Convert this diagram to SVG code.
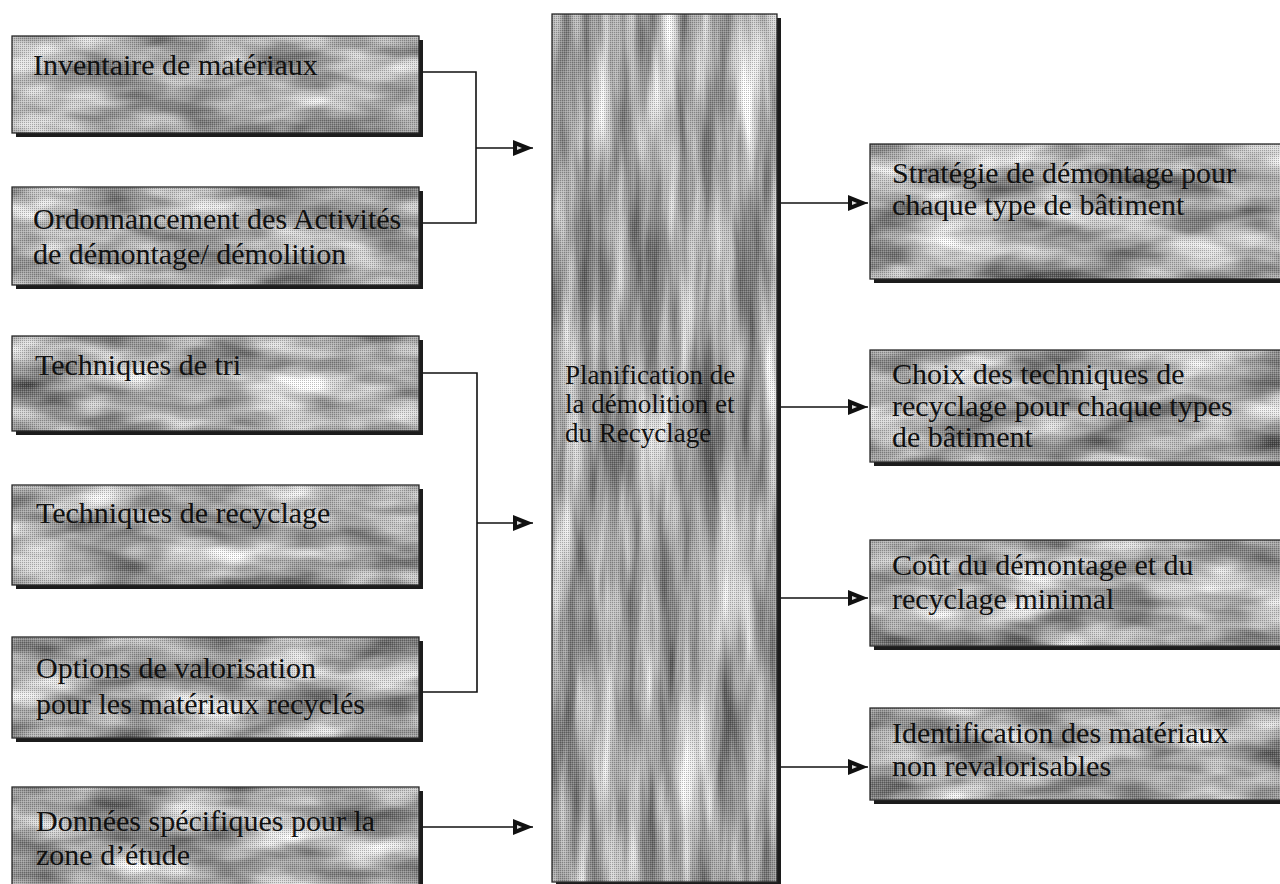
<svg xmlns="http://www.w3.org/2000/svg" width="1280" height="884" viewBox="0 0 1280 884">
<style>
.bg{fill:#ffffff}
.shadow{fill:#1c1c1c}
.ht{fill:url(#ht)}
.border{fill:none;stroke:#2a2a2a;stroke-width:1.3}
.lbl{font-family:"Liberation Serif","Times New Roman",serif;font-size:30px;fill:#111}
.clbl{font-family:"Liberation Serif","Times New Roman",serif;font-size:27px;fill:#111}
.conn{fill:none;stroke:#111;stroke-width:1.6}
</style>
<defs>
<pattern id="ht" width="2" height="2" patternUnits="userSpaceOnUse">
<rect x="0" y="0" width="1" height="1" fill="#000" fill-opacity="0.25"/>
<rect x="1" y="1" width="1" height="1" fill="#fff" fill-opacity="0.2"/>
</pattern>
<filter id="mottleH" x="0" y="0" width="1" height="1" color-interpolation-filters="sRGB">
<feTurbulence type="fractalNoise" baseFrequency="0.012 0.035" numOctaves="3" seed="7" result="t"/>
<feColorMatrix in="t" type="matrix" values="0.95 0 0 0 0.2  0.95 0 0 0 0.2  0.95 0 0 0 0.2  0 0 0 0 1" result="g"/>
<feComposite in="g" in2="SourceGraphic" operator="in"/>
</filter>
<filter id="mottleV" x="0" y="0" width="1" height="1" color-interpolation-filters="sRGB">
<feTurbulence type="fractalNoise" baseFrequency="0.05 0.006" numOctaves="3" seed="11" result="t"/>
<feColorMatrix in="t" type="matrix" values="1.0 0 0 0 0.16  1.0 0 0 0 0.16  1.0 0 0 0 0.16  0 0 0 0 1" result="g"/>
<feComposite in="g" in2="SourceGraphic" operator="in"/>
</filter>
<marker id="arr" markerUnits="userSpaceOnUse" markerWidth="22" markerHeight="16" refX="20" refY="8" orient="auto">
<path d="M0,0 L20,8 L0,16 z" fill="#111"/>
<path d="M4,6 L9,8 L4,10 z" fill="#ddd"/>
</marker>
</defs>
<rect class="bg" x="0" y="0" width="1280" height="884"/>

<g id="n-inventaire">
<rect class="shadow" x="16" y="40" width="407" height="97"/>
<rect x="12" y="36" width="407" height="97" fill="#aaa" filter="url(#mottleH)"/>
<rect class="ht" x="12" y="36" width="407" height="97"/>
<rect class="border" x="12" y="36" width="407" height="97"/>
<text class="lbl" x="33" y="75">Inventaire de matériaux</text>
</g>

<g id="n-ordonnancement">
<rect class="shadow" x="16" y="191" width="407" height="98"/>
<rect x="12" y="187" width="407" height="98" fill="#aaa" filter="url(#mottleH)"/>
<rect class="ht" x="12" y="187" width="407" height="98"/>
<rect class="border" x="12" y="187" width="407" height="98"/>
<text class="lbl" x="33" y="229">Ordonnancement des Activités</text>
<text class="lbl" x="33" y="264">de démontage/ démolition</text>
</g>

<g id="n-tri">
<rect class="shadow" x="16" y="340" width="407" height="95"/>
<rect x="12" y="336" width="407" height="95" fill="#aaa" filter="url(#mottleH)"/>
<rect class="ht" x="12" y="336" width="407" height="95"/>
<rect class="border" x="12" y="336" width="407" height="95"/>
<text class="lbl" x="35" y="375">Techniques de tri</text>
</g>

<g id="n-recyclage">
<rect class="shadow" x="16" y="489" width="407" height="100"/>
<rect x="12" y="485" width="407" height="100" fill="#aaa" filter="url(#mottleH)"/>
<rect class="ht" x="12" y="485" width="407" height="100"/>
<rect class="border" x="12" y="485" width="407" height="100"/>
<text class="lbl" x="36" y="523">Techniques de recyclage</text>
</g>

<g id="n-options">
<rect class="shadow" x="16" y="641" width="407" height="101"/>
<rect x="12" y="637" width="407" height="101" fill="#aaa" filter="url(#mottleH)"/>
<rect class="ht" x="12" y="637" width="407" height="101"/>
<rect class="border" x="12" y="637" width="407" height="101"/>
<text class="lbl" x="36" y="678">Options de valorisation</text>
<text class="lbl" x="36" y="714">pour les matériaux recyclés</text>
</g>

<g id="n-donnees">
<rect class="shadow" x="16" y="791" width="407" height="110"/>
<rect x="12" y="787" width="407" height="110" fill="#aaa" filter="url(#mottleH)"/>
<rect class="ht" x="12" y="787" width="407" height="110"/>
<rect class="border" x="12" y="787" width="407" height="110"/>
<text class="lbl" x="36" y="831">Données spécifiques pour la</text>
<text class="lbl" x="36" y="865">zone d’étude</text>
</g>

<g id="n-planification">
<rect class="shadow" x="556" y="18" width="225" height="868"/>
<rect x="552" y="14" width="225" height="868" fill="#aaa" filter="url(#mottleV)"/>
<rect class="ht" x="552" y="14" width="225" height="868"/>
<rect class="border" x="552" y="14" width="225" height="868"/>
<text class="clbl" x="565" y="384">Planification de</text>
<text class="clbl" x="565" y="413">la démolition et</text>
<text class="clbl" x="565" y="442">du Recyclage</text>
</g>

<g id="n-strategie">
<rect class="shadow" x="874" y="148" width="420" height="135"/>
<rect x="870" y="144" width="420" height="135" fill="#aaa" filter="url(#mottleH)"/>
<rect class="ht" x="870" y="144" width="420" height="135"/>
<rect class="border" x="870" y="144" width="420" height="135"/>
<text class="lbl" x="892" y="183">Stratégie de démontage pour</text>
<text class="lbl" x="892" y="215">chaque type de bâtiment</text>
</g>

<g id="n-choix">
<rect class="shadow" x="874" y="354" width="420" height="112"/>
<rect x="870" y="350" width="420" height="112" fill="#aaa" filter="url(#mottleH)"/>
<rect class="ht" x="870" y="350" width="420" height="112"/>
<rect class="border" x="870" y="350" width="420" height="112"/>
<text class="lbl" x="892" y="384">Choix des techniques de</text>
<text class="lbl" x="892" y="416">recyclage pour chaque types</text>
<text class="lbl" x="892" y="447">de bâtiment</text>
</g>

<g id="n-cout">
<rect class="shadow" x="874" y="544" width="420" height="106"/>
<rect x="870" y="540" width="420" height="106" fill="#aaa" filter="url(#mottleH)"/>
<rect class="ht" x="870" y="540" width="420" height="106"/>
<rect class="border" x="870" y="540" width="420" height="106"/>
<text class="lbl" x="892" y="575">Coût du démontage et du</text>
<text class="lbl" x="892" y="609">recyclage minimal</text>
</g>

<g id="n-identification">
<rect class="shadow" x="874" y="712" width="420" height="92"/>
<rect x="870" y="708" width="420" height="92" fill="#aaa" filter="url(#mottleH)"/>
<rect class="ht" x="870" y="708" width="420" height="92"/>
<rect class="border" x="870" y="708" width="420" height="92"/>
<text class="lbl" x="892" y="743">Identification des matériaux</text>
<text class="lbl" x="892" y="776">non revalorisables</text>
</g>

<g id="connectors">
<path class="conn" d="M423,72 H476 V223 H423"/>
<path class="conn" d="M476,148 H533" marker-end="url(#arr)"/>
<path class="conn" d="M423,373 H477 V692 H423"/>
<path class="conn" d="M477,523 H533" marker-end="url(#arr)"/>
<path class="conn" d="M423,827 H533" marker-end="url(#arr)"/>
<path class="conn" d="M781,203 H868" marker-end="url(#arr)"/>
<path class="conn" d="M781,407 H868" marker-end="url(#arr)"/>
<path class="conn" d="M781,598 H868" marker-end="url(#arr)"/>
<path class="conn" d="M781,767 H868" marker-end="url(#arr)"/>
</g>
</svg>
